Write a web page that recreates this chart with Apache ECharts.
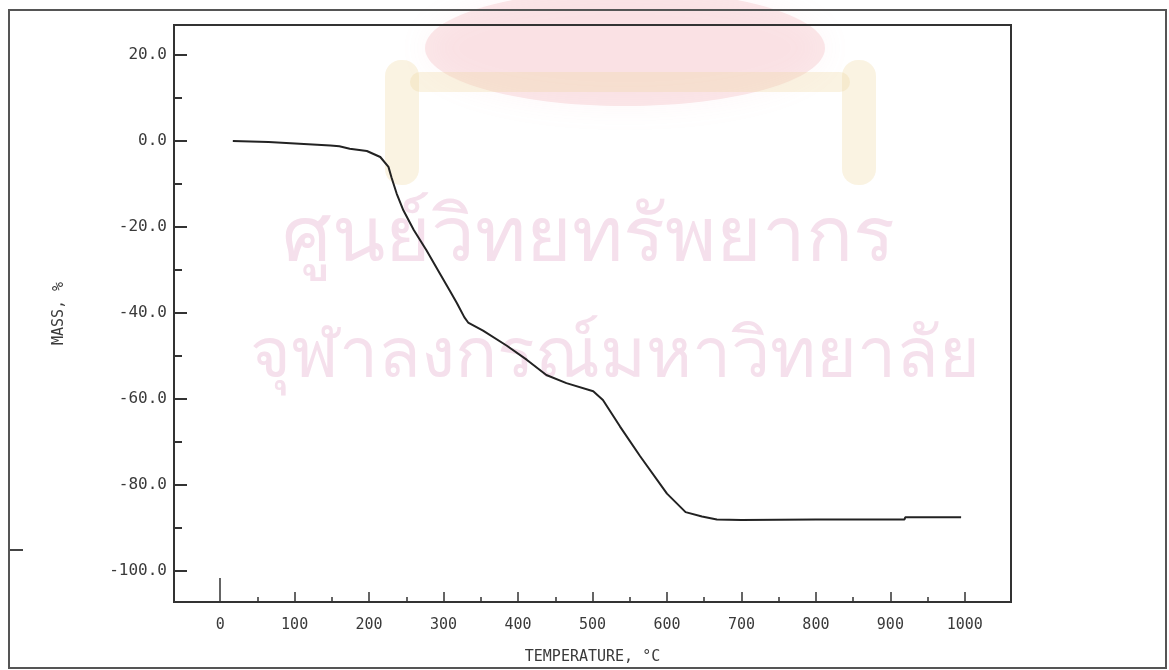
<!DOCTYPE html>
<html>
<head>
<meta charset="utf-8">
<script src="https://cdn.jsdelivr.net/npm/echarts@6/dist/echarts.min.js"></script>
<style>
  html, body { margin: 0; padding: 0; background: #ffffff; }
  #chart { width: 1169px; height: 670px; }
</style>
</head>
<body>
<div id="chart"></div>
<script>
// ---- data (TGA curve) ----
const temperature = [17, 65, 66, 148, 160, 174, 197, 215, 226, 230, 237, 246, 260, 277, 295, 309, 318, 328, 333, 353, 385, 412, 438, 465, 501, 514, 537, 564, 600, 625, 647, 667, 700, 800, 919, 920, 995];
const massPct     = [0, -0.2, -0.6, -1.0, -1.2, -1.8, -2.3, -3.7, -6.0, -8.4, -12.2, -16.1, -20.7, -25.4, -30.8, -35.0, -37.7, -41.0, -42.2, -44.1, -47.6, -50.9, -54.4, -56.3, -58.2, -60.2, -66.4, -73.3, -82.0, -86.3, -87.3, -88.0, -88.1, -88.0, -88.0, -87.5, -87.5];

const xTickValues  = [0, 100, 200, 300, 400, 500, 600, 700, 800, 900, 1000];
const xMinorTicks  = [50, 150, 250, 350, 450, 550, 650, 750, 850, 950];
const xOriginTick  = [0];
const yTickValues  = [20, 0, -20, -40, -60, -80, -100];
const yMinorTicks  = [10, -10, -30, -50, -70, -90];

const xName = 'TEMPERATURE, °C';
const yName = 'MASS, %';
const watermark1 = 'ศูนย์วิทยทรัพยากร';
const watermark2 = 'จุฬาลงกรณ์มหาวิทยาลัย';

const X_MIN = -62, X_MAX = 1062, Y_MIN = -107.2, Y_MAX = 27;
const FONT = 'DejaVu Sans Mono';
const INK = '#333333';

const points = temperature.map((t, i) => [t, massPct[i]]);

const chart = echarts.init(document.getElementById('chart'), null, { renderer: 'canvas' });

function xAx(ticks, len, opts) {
  return Object.assign({
    type: 'value', position: 'bottom', min: X_MIN, max: X_MAX,
    axisLine: { show: false, onZero: false },
    splitLine: { show: false },
    axisLabel: { show: false },
    axisTick: { show: true, inside: true, length: len, customValues: ticks, lineStyle: { color: INK, width: 1.5 } }
  }, opts || {});
}
function yAx(ticks, len, opts) {
  return Object.assign({
    type: 'value', position: 'left', min: Y_MIN, max: Y_MAX,
    axisLine: { show: false, onZero: false },
    splitLine: { show: false },
    axisLabel: { show: false },
    axisTick: { show: true, inside: true, length: len, customValues: ticks, lineStyle: { color: INK, width: 2 } }
  }, opts || {});
}

chart.setOption({
  animation: false,
  backgroundColor: '#ffffff',
  grid: {
    left: 174, top: 25, right: 158, bottom: 67,
    show: true, borderColor: INK, borderWidth: 2, backgroundColor: 'transparent'
  },
  xAxis: [
    xAx(xTickValues, 10, {
      axisLine: { show: true, onZero: false, lineStyle: { color: INK, width: 2 } },
      axisLabel: { show: true, customValues: xTickValues, margin: 16, color: '#3a3a3a',
                   fontFamily: FONT, fontSize: 15, formatter: v => String(v) },
      name: xName, nameLocation: 'middle', nameGap: 48,
      nameTextStyle: { color: '#3a3a3a', fontFamily: FONT, fontSize: 15 }
    }),
    xAx(xMinorTicks, 5),
    xAx(xOriginTick, 24)
  ],
  yAxis: [
    yAx(yTickValues, 13, {
      axisLine: { show: true, onZero: false, lineStyle: { color: INK, width: 2 } },
      axisLabel: { show: true, customValues: yTickValues, margin: 7, color: '#3a3a3a',
                   fontFamily: FONT, fontSize: 16,
                   formatter: v => v.toFixed(1) },
      name: yName, nameLocation: 'middle', nameGap: 107,
      nameTextStyle: { color: '#3a3a3a', fontFamily: FONT, fontSize: 15 }
    }),
    yAx(yMinorTicks, 8)
  ],
  graphic: [
    // scanned page frame
    { type: 'rect', z: 100, silent: true,
      shape: { x: 9, y: 10, width: 1157, height: 658 },
      style: { fill: 'none', stroke: '#555555', lineWidth: 2 } },
    { type: 'line', z: 100, silent: true,
      shape: { x1: 10, y1: 550, x2: 23, y2: 550 },
      style: { stroke: '#444444', lineWidth: 2 } },
    // faint emblem watermark at top
    { type: 'ellipse', z: -5, silent: true,
      shape: { cx: 625, cy: 48, rx: 200, ry: 58 },
      style: { fill: 'rgba(236,150,160,0.22)', shadowBlur: 30, shadowColor: 'rgba(236,150,160,0.35)' } },
    { type: 'rect', z: -5, silent: true,
      shape: { x: 385, y: 60, width: 34, height: 125, r: 16 },
      style: { fill: 'rgba(240,215,160,0.3)' } },
    { type: 'rect', z: -5, silent: true,
      shape: { x: 842, y: 60, width: 34, height: 125, r: 16 },
      style: { fill: 'rgba(240,215,160,0.3)' } },
    { type: 'rect', z: -5, silent: true,
      shape: { x: 410, y: 72, width: 440, height: 20, r: 10 },
      style: { fill: 'rgba(240,215,160,0.3)' } },
    // Thai text watermark
    { type: 'text', z: -4, silent: true, left: 282, top: 200,
      style: { text: watermark1, fill: '#f5e0ec', font: '78px "Noto Sans", "DejaVu Sans", sans-serif' } },
    { type: 'text', z: -4, silent: true, left: 250, top: 322,
      style: { text: watermark2, fill: '#f5e0ec', font: '70px "Noto Sans", "DejaVu Sans", sans-serif' } }
  ],
  series: [{
    type: 'line',
    xAxisIndex: 0, yAxisIndex: 0,
    data: points,
    showSymbol: false,
    smooth: false,
    lineStyle: { color: '#222222', width: 2 },
    z: 10
  }]
});
</script>
</body>
</html>
